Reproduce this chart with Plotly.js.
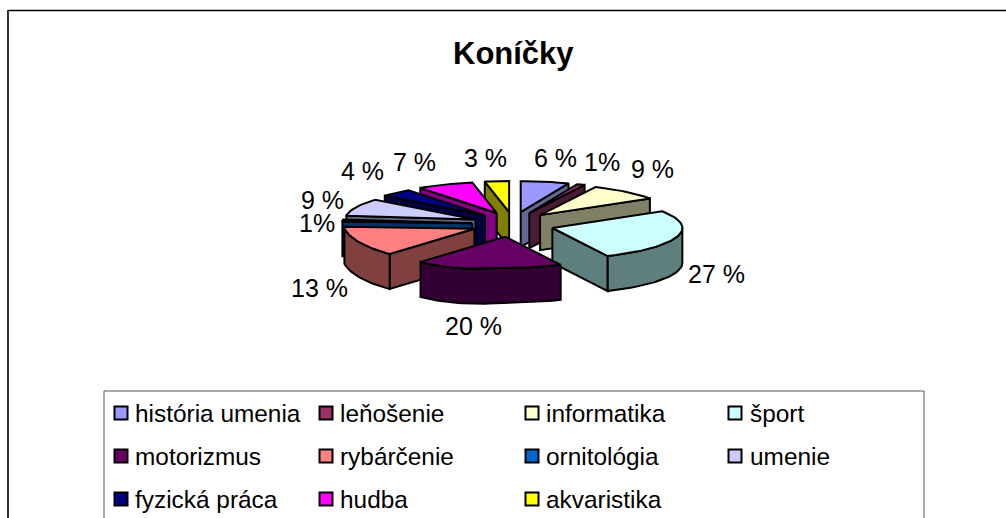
<!DOCTYPE html>
<html><head><meta charset="utf-8">
<script src="https://cdn.plot.ly/plotly-3.0.1.min.js"></script>
<style>html,body{margin:0;padding:0;background:#fff}#c{width:1006px;height:518px}</style>
</head><body><div id="c"></div>
<script>
const categories = ["história umenia","leňošenie","informatika","šport","motorizmus","rybárčenie","ornitológia","umenie","fyzická práca","hudba","akvaristika"];
const values = [6,1,9,27,20,13,1,9,4,7,3];
const valueLabels = ["6 %","1%","9 %","27 %","20 %","13 %","1%","9 %","4 %","7 %","3 %"];
const topColors = ["#9999FF","#993366","#FFFFCC","#CCFFFF","#660066","#FF8080","#0066CC","#CCCCFF","#000080","#FF00FF","#FFFF00"];
const wallColors = ["#666699","#4D1A33","#808066","#5F7F7F","#330033","#804040","#003366","#666680","#000040","#800080","#808000"];
const labelX = [555,602,652,716,473,319,317,322,362,414,485];
const labelY = [158,162,169,274,326,288,223,200,171,162,158];
const legendMarkX = [121,326,532,735];
const legendTextX = [135,340,546,750];
const legendRowY = [413,456,499];

const cx=513, cy=224.5, rx=130, ry=31, ex=41, ey=12.5, depth=35;
const rad=d=>d*Math.PI/180;
function pt(bis,a,r,drop){
  const u=Math.sin(rad(a))*r, v=-Math.cos(rad(a))*r;
  const w=Math.max(0,-u)*Math.max(0,v);
  return [cx+ex*Math.sin(rad(bis))+rx*u+20*w, cy-ey*Math.cos(rad(bis))+ry*v+drop+8*w];
}
function arc(bis,a0,a1,drop){
  const n=Math.max(2,Math.ceil((a1-a0)/2)), out=[];
  for(let i=0;i<=n;i++) out.push(pt(bis,a0+(a1-a0)*i/n,1,drop));
  return out;
}
function poly(points,fill,name){
  const xs=points.map(p=>p[0]), ys=points.map(p=>p[1]);
  xs.push(xs[0]); ys.push(ys[0]);
  return {type:"scatter",mode:"lines",x:xs,y:ys,fill:"toself",fillcolor:fill,name:name,
    line:{color:"#000",width:2,shape:"linear"},hoverinfo:"name",showlegend:false};
}
const total=values.reduce((a,b)=>a+b,0);
let acc=0;
const slices=values.map((v,i)=>{const a0=acc/total*360; acc+=v; const a1=acc/total*360; return {i,a0,a1,bis:(a0+a1)/2};});
const order=[...slices].sort((p,q)=>-Math.cos(rad(p.bis))+Math.cos(rad(q.bis)));
const traces=[];
order.forEach(s=>{
  const nm=categories[s.i], wall=wallColors[s.i], top=topColors[s.i];
  const apex=pt(s.bis,0,0,0), apexB=pt(s.bis,0,0,depth);
  if(Math.sin(rad(s.a0))<0){ traces.push(poly([apex,pt(s.bis,s.a0,1,0),pt(s.bis,s.a0,1,depth),apexB],wall,nm)); }
  if(Math.sin(rad(s.a1))>0){ traces.push(poly([apex,pt(s.bis,s.a1,1,0),pt(s.bis,s.a1,1,depth),apexB],wall,nm)); }
  const w0=Math.max(s.a0,90), w1=Math.min(s.a1,270);
  if(w1>w0){ traces.push(poly(arc(s.bis,w0,w1,0).concat(arc(s.bis,w0,w1,depth).reverse()),wall,nm)); }
  traces.push(poly([apex].concat(arc(s.bis,s.a0,s.a1,0)),top,nm));
});
const legendX=categories.map((_,i)=>legendMarkX[i%4]);
const legendY=categories.map((_,i)=>legendRowY[Math.floor(i/4)]);
traces.push({type:"scatter",mode:"markers",x:legendX,y:legendY,text:categories,hoverinfo:"text",showlegend:false,
  marker:{symbol:"square",size:13,color:topColors,line:{color:"#000",width:2}}});
const font="Liberation Sans, Arial, sans-serif";
const annotations=[];
annotations.push({text:"<b>Koníčky</b>",x:513.5,y:53,xref:"x",yref:"y",showarrow:false,font:{family:font,size:31,color:"#000"}});
categories.forEach((c,i)=>{
  annotations.push({text:c,x:legendTextX[i%4],y:legendRowY[Math.floor(i/4)],xref:"x",yref:"y",xanchor:"left",showarrow:false,xshift:-2,font:{family:font,size:24.4,color:"#000"}});
  annotations.push({text:valueLabels[i],x:labelX[i],y:labelY[i],xref:"x",yref:"y",showarrow:false,font:{family:font,size:25,color:"#000"}});
});
const layout={width:1006,height:518,margin:{l:0,r:0,t:0,b:0},paper_bgcolor:"#fff",plot_bgcolor:"#fff",showlegend:false,
  xaxis:{range:[0,1006],visible:false,fixedrange:true},
  yaxis:{range:[518,0],visible:false,fixedrange:true},
  annotations,
  shapes:[
    {type:"line",x0:8,x1:1006,y0:10.5,y1:10.5,line:{color:"#000",width:1.5}},
    {type:"line",x0:8,x1:8,y0:10,y1:518,line:{color:"#333",width:2}},
    {type:"line",x0:104,x1:924,y0:391,y1:391,line:{color:"#555",width:1}},
    {type:"line",x0:104,x1:104,y0:391,y1:518,line:{color:"#555",width:1}},
    {type:"line",x0:924,x1:924,y0:391,y1:518,line:{color:"#555",width:1}}
  ]};
Plotly.newPlot("c",traces,layout,{displayModeBar:false,staticPlot:true});
</script></body></html>
